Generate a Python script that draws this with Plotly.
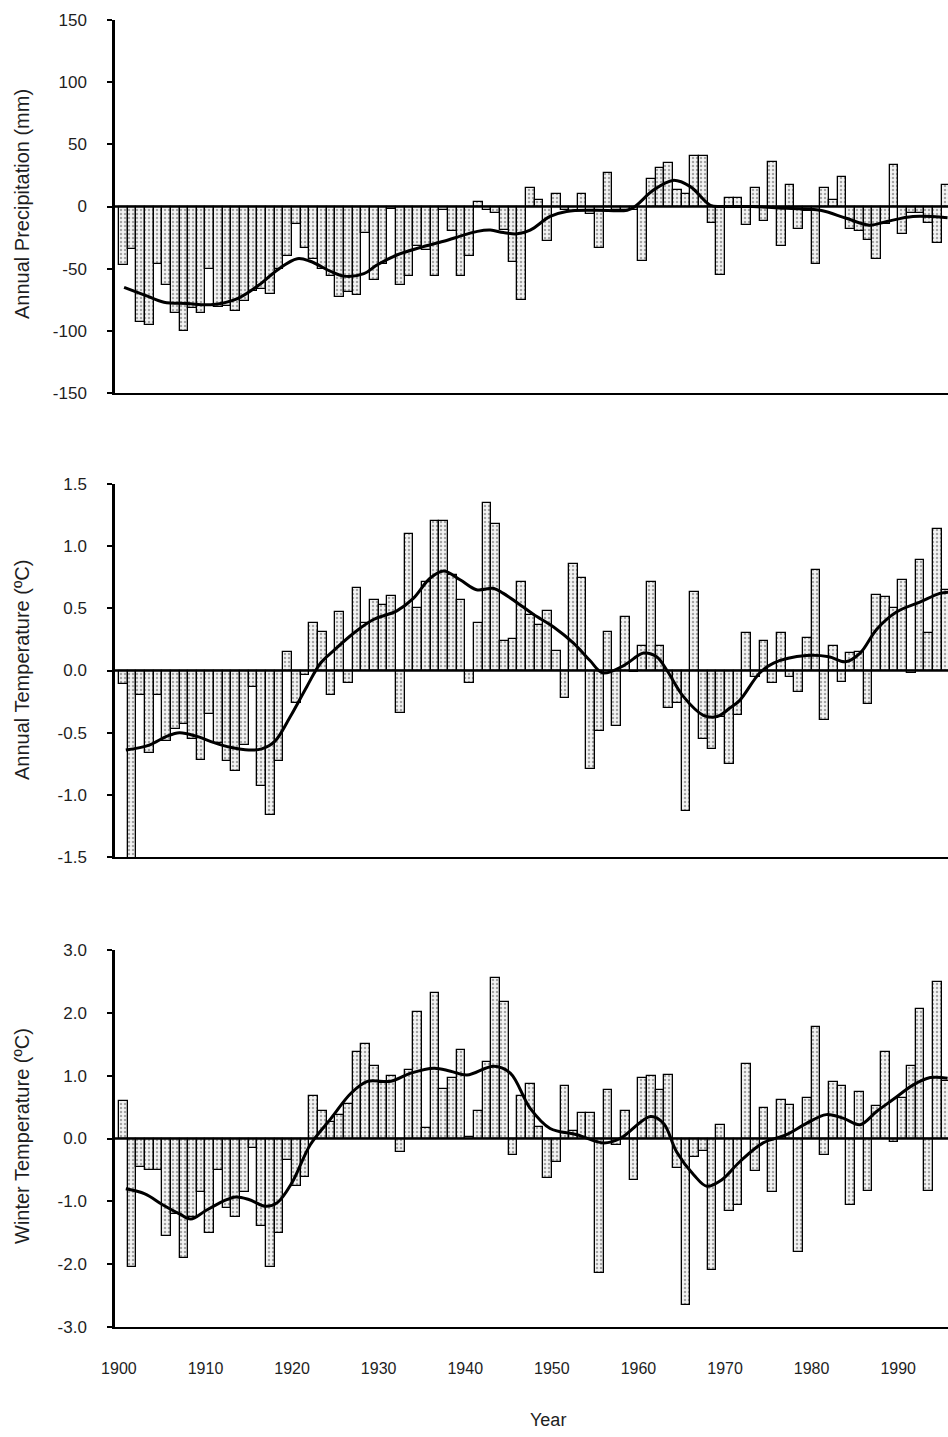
import plotly.graph_objects as go
from plotly.subplots import make_subplots

# ---- data -------------------------------------------------------------
years = list(range(1901, 1997))

precip_anom = [
    -47, -34, -93, -95, -46, -63, -86, -100, -82, -86,
    -50, -81, -80, -84, -76, -68, -66, -70, -50, -40,
    -14, -33, -42, -50, -56, -73, -69, -71, -21, -59,
    -46, -2, -63, -56, -32, -35, -56, -3, -20, -56,
    -40, 4, -3, -5, -19, -45, -75, 15, 5, -28,
    10, -3, -4, 10, -6, -33, 27, -3, -3, -3,
    -44, 22, 31, 35, 13, 10, 41, 41, -13, -55,
    7, 7, -15, 15, -12, 36, -32, 17, -18, -4,
    -46, 15, 5, 24, -18, -20, -27, -42, -14, 33,
    -22, -5, -5, -13, -29, 17,
]

annual_temp_anom = [
    -0.11, -1.60, -0.20, -0.66, -0.20, -0.57, -0.47, -0.43, -0.55, -0.72,
    -0.35, -0.58, -0.73, -0.81, -0.60, -0.13, -0.93, -1.16, -0.73, 0.15,
    -0.26, -0.04, 0.38, 0.31, -0.20, 0.47, -0.10, 0.66, 0.38, 0.57,
    0.53, 0.60, -0.34, 1.10, 0.50, 0.71, 1.20, 1.20, 0.77, 0.57,
    -0.10, 0.38, 1.35, 1.18, 0.24, 0.25, 0.71, 0.45, 0.37, 0.48,
    0.16, -0.22, 0.86, 0.74, -0.79, -0.49, 0.31, -0.45, 0.43, -0.01,
    0.20, 0.71, 0.20, -0.30, -0.26, -1.13, 0.63, -0.55, -0.63, -0.37,
    -0.75, -0.36, 0.30, -0.05, 0.24, -0.10, 0.30, -0.05, -0.17, 0.26,
    0.81, -0.40, 0.20, -0.09, 0.14, 0.15, -0.27, 0.61, 0.59, 0.50,
    0.73, -0.02, 0.89, 0.30, 1.14, 0.65,
]

winter_temp_anom = [
    0.59, -2.05, -0.45, -0.50, -0.50, -1.55, -1.20, -1.90, -1.25, -0.85,
    -1.50, -0.50, -1.10, -1.25, -0.85, -0.15, -1.40, -2.05, -1.50, -0.35,
    -0.75, -0.62, 0.67, 0.43, 0.27, 0.38, 0.55, 1.37, 1.51, 1.16,
    0.88, 1.00, -0.21, 1.09, 2.01, 0.16, 2.32, 0.79, 0.97, 1.41,
    0.03, 0.43, 1.22, 2.55, 2.17, -0.27, 0.67, 0.86, 0.19, -0.63,
    -0.37, 0.84, 0.12, 0.41, 0.41, -2.14, 0.77, -0.10, 0.43, -0.66,
    0.97, 0.99, 0.77, 1.01, -0.47, -2.65, -0.30, -0.20, -2.09, 0.21,
    -1.15, -1.06, 1.18, -0.51, 0.49, -0.85, 0.62, 0.53, -1.80, 0.64,
    1.78, -0.27, 0.90, 0.83, -1.06, 0.74, -0.83, 0.52, 1.38, -0.06,
    0.64, 1.15, 2.06, -0.84, 2.49, 0.91,
]

# smoothed curves (axis-year position, value)
precip_trend_x = [1900.6, 1902.9, 1905.2, 1907.9, 1910.6, 1913.7, 1916.4, 1918.3,
                  1920.6, 1922.1, 1924.4, 1926.0, 1928.3, 1929.8, 1932.1, 1934.8,
                  1937.5, 1939.8, 1941.4, 1942.9, 1944.4, 1946.0, 1947.5, 1949.8,
                  1951.7, 1955.0, 1958.7, 1959.6, 1961.7, 1964.0, 1966.0, 1968.3,
                  1969.6, 1973.2, 1977.1, 1981.0, 1984.0, 1986.7, 1988.7, 1991.7,
                  1995.7]
precip_trend = [-65, -71, -77, -78, -79, -74, -62, -51,
                -42, -44, -52, -56, -54, -47, -39, -33,
                -28, -23, -20, -19, -21, -22, -19, -8,
                -4, -3, -3, 0, 13, 21, 16, 1,
                0, 0, -1.5, -3, -9.5, -15, -12, -8,
                -9]

annual_trend_x = [1900.8, 1903.5, 1905.5, 1907.0, 1909.0, 1911.0, 1913.0, 1915.0,
                  1916.5, 1918.0, 1919.8, 1921.7, 1923.3, 1924.8, 1927.1, 1929.4,
                  1932.1, 1934.0, 1935.9, 1937.5, 1939.4, 1941.3, 1943.3, 1944.4,
                  1946.7, 1947.9, 1950.2, 1952.5, 1954.4, 1955.9, 1958.3, 1960.6,
                  1962.1, 1963.3, 1965.2, 1967.5, 1969.1, 1970.6, 1971.7, 1974.0,
                  1975.6, 1979.4, 1982.0, 1983.9, 1985.6, 1987.5, 1989.8, 1992.5,
                  1994.8, 1995.8]
annual_trend = [-0.64, -0.60, -0.53, -0.50, -0.53, -0.58, -0.62, -0.64,
                -0.63, -0.57, -0.37, -0.13, 0.06, 0.16, 0.30, 0.41,
                0.48, 0.58, 0.74, 0.80, 0.73, 0.65, 0.66, 0.62,
                0.51, 0.45, 0.35, 0.22, 0.08, -0.02, 0.04, 0.14,
                0.11, 0.00, -0.21, -0.36, -0.37, -0.30, -0.24, -0.02,
                0.06, 0.12, 0.11, 0.07, 0.14, 0.33, 0.47, 0.55,
                0.62, 0.63]

winter_trend_x = [1900.8, 1903.0, 1905.0, 1907.0, 1908.3, 1910.0, 1912.0, 1913.5,
                  1915.0, 1917.0, 1918.3, 1920.0, 1922.1, 1924.5, 1926.8, 1928.7,
                  1931.4, 1933.7, 1936.4, 1938.3, 1940.2, 1943.3, 1945.2, 1947.5,
                  1949.8, 1952.9, 1956.0, 1957.9, 1961.4, 1962.9, 1964.4, 1966.4,
                  1967.9, 1969.6, 1971.7, 1974.4, 1977.1, 1979.4, 1981.7, 1983.7,
                  1985.6, 1987.5, 1989.4, 1991.7, 1993.7, 1995.7]
winter_trend = [-0.80, -0.88, -1.05, -1.20, -1.28, -1.15, -1.00, -0.93,
                -0.97, -1.08, -1.02, -0.70, -0.10, 0.32, 0.72, 0.91,
                0.91, 1.04, 1.12, 1.07, 1.01, 1.15, 1.04, 0.48,
                0.16, 0.06, -0.07, 0.00, 0.35, 0.24, -0.21, -0.58,
                -0.76, -0.66, -0.37, -0.07, 0.06, 0.24, 0.38, 0.32,
                0.22, 0.43, 0.62, 0.85, 0.97, 0.96]

y_titles = ["Annual Precipitation (mm)", "Annual Temperature (ºC)", "Winter Temperature (ºC)"]
y_ranges = [[-150, 150], [-1.5, 1.5], [-3.0, 3.0]]
precip_ticks = [-150, -100, -50, 0, 50, 100, 150]
precip_tick_labels = ["-150", "-100", "-50", "0", "50", "100", "150"]
annual_ticks = [-1.5, -1.0, -0.5, 0.0, 0.5, 1.0, 1.5]
annual_tick_labels = ["-1.5", "-1.0", "-0.5", "0.0", "0.5", "1.0", "1.5"]
winter_ticks = [-3.0, -2.0, -1.0, 0.0, 1.0, 2.0, 3.0]
winter_tick_labels = ["-3.0", "-2.0", "-1.0", "0.0", "1.0", "2.0", "3.0"]
decade_ticks = list(range(1900, 2000, 10))

# ---- figure -----------------------------------------------------------
W, H = 948, 1437
M_L, M_R, M_T, M_B = 115, 0, 20, 110
plot_h = H - M_T - M_B

def dom(top_px, bottom_px):
    return [1 - (bottom_px - M_T) / plot_h, 1 - (top_px - M_T) / plot_h]

domains = [dom(20, 393), dom(484, 857), dom(950, 1327)]

fig = make_subplots(rows=3, cols=1)

series = [
    (precip_anom, precip_trend_x, precip_trend),
    (annual_temp_anom, annual_trend_x, annual_trend),
    (winter_temp_anom, winter_trend_x, winter_trend),
]
tick_sets = [
    (precip_ticks, precip_tick_labels),
    (annual_ticks, annual_tick_labels),
    (winter_ticks, winter_tick_labels),
]

font_family = "Liberation Sans, Arial, sans-serif"
text_col = "#1e1e1e"

for i, (vals, tx, ty) in enumerate(series):
    row = i + 1
    fig.add_trace(
        go.Bar(
            x=years, y=vals, width=1.0, offset=-1.0,
            marker=dict(
                color="#f3f3f3",
                line=dict(color="black", width=1.3),
                pattern=dict(shape=".", fgcolor="#555555", size=4,
                             solidity=0.3, fillmode="overlay"),
            ),
            cliponaxis=False,
            hoverinfo="x+y",
        ),
        row=row, col=1,
    )
    fig.add_trace(
        go.Scatter(
            x=tx, y=ty, mode="lines",
            line=dict(color="black", width=3, shape="spline", smoothing=1.0),
            hoverinfo="skip",
        ),
        row=row, col=1,
    )

layout = dict(
    width=W, height=H,
    margin=dict(l=M_L, r=M_R, t=M_T, b=M_B, pad=0),
    paper_bgcolor="white", plot_bgcolor="white",
    showlegend=False, bargap=0,
    font=dict(family=font_family, size=15, color=text_col),
)

shapes = []
annotations = []
title_centers = [204, 670, 1136]
for i in range(3):
    sfx = "" if i == 0 else str(i + 1)
    layout["xaxis" + sfx] = dict(
        range=[1899.55, 1995.75], tickvals=decade_ticks,
        showticklabels=(i == 2), ticks="", ticklabelstandoff=26,
        showline=True, linecolor="black", linewidth=2,
        showgrid=False, zeroline=False,
        tickfont=dict(size=16, color=text_col),
    )
    layout["yaxis" + sfx] = dict(
        domain=domains[i], range=y_ranges[i],
        tickvals=tick_sets[i][0], ticktext=tick_sets[i][1],
        ticks="outside", ticklen=5, tickwidth=1.5, tickcolor="black",
        ticklabelstandoff=17,
        showline=True, linecolor="black", linewidth=2.5,
        showgrid=False, zeroline=False,
        tickfont=dict(size=17, color=text_col),
    )
    # zero reference line drawn over the bars
    shapes.append(dict(
        type="line", xref=f"x{sfx} domain", yref=f"y{sfx}",
        x0=0, x1=1, y0=0, y1=0,
        line=dict(color="black", width=2.5), layer="above",
    ))
    annotations.append(dict(
        text=y_titles[i], textangle=-90, showarrow=False,
        xref="paper", yref="paper",
        x=-(M_L - 22) / (W - M_L - M_R), xanchor="center",
        y=1 - (title_centers[i] - M_T) / plot_h, yanchor="middle",
        font=dict(size=20, color=text_col),
    ))

annotations.append(dict(
    text="Year", showarrow=False, xref="paper", yref="paper",
    x=(548 - M_L) / (W - M_L - M_R), xanchor="center",
    y=-(1420 - (H - M_B)) / plot_h, yanchor="middle",
    font=dict(size=18, color=text_col),
))

layout["shapes"] = shapes
layout["annotations"] = annotations
fig.update_layout(**layout)

fig.write_html("out.html")
